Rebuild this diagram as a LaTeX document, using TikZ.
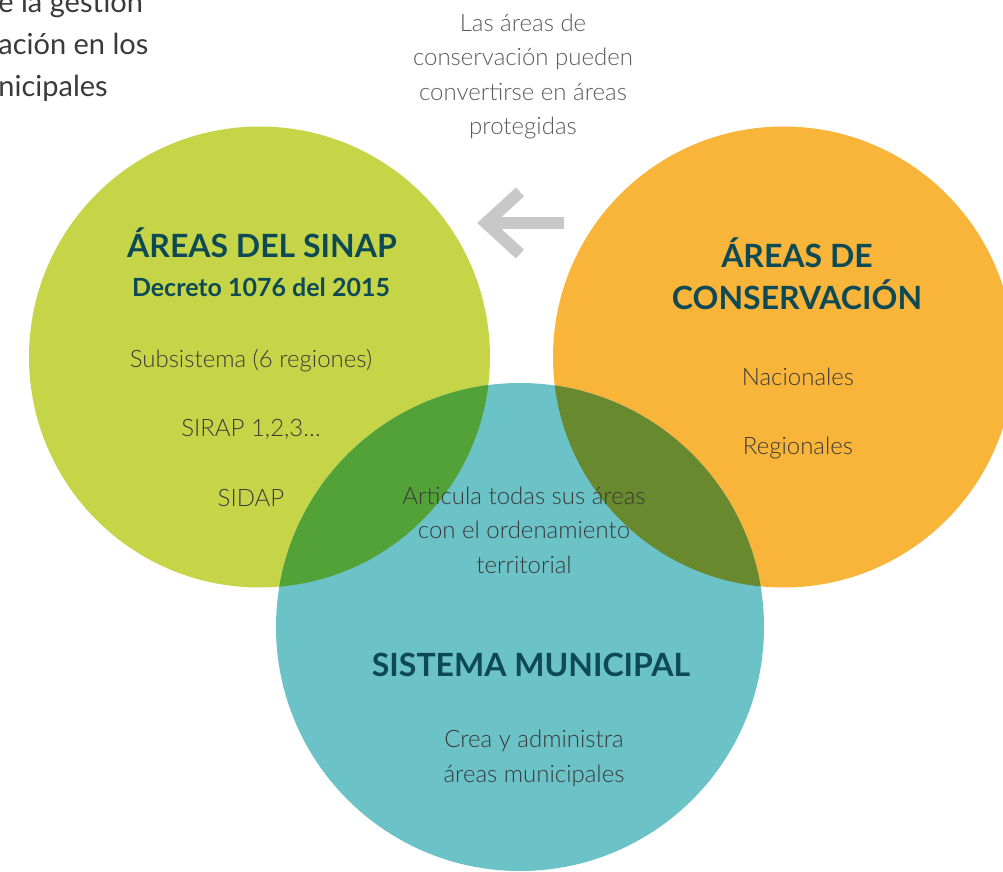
\documentclass[tikz,border=0pt]{standalone}
\usepackage{fontspec}
\setmainfont{Lato}
\newfontfamily\lightfont{Lato Light}
\usetikzlibrary{calc}
\definecolor{sinapgreen}{HTML}{C6D548}
\definecolor{consorange}{HTML}{F9B43A}
\definecolor{munteal}{HTML}{6BC2C7}
\definecolor{greenteal}{HTML}{53A238}
\definecolor{orangeteal}{HTML}{68892D}
\definecolor{titleteal}{HTML}{0E4A56}
\definecolor{bodygray}{HTML}{3A3A3A}
\definecolor{notegray}{HTML}{5A5A5A}
\definecolor{arrowgray}{HTML}{C8C8C8}
\tikzset{every node/.style={inner sep=0pt, align=center},
  titletext/.style={font=\bfseries\fontsize{16}{21}\selectfont, text=titleteal},
  decreetext/.style={font=\bfseries\fontsize{12.5}{15}\selectfont, text=titleteal},
  bodytext/.style={font=\lightfont\fontsize{12}{17.2}\selectfont, text=bodygray},
  notetext/.style={font=\lightfont\fontsize{12}{17.3}\selectfont, text=notegray},
  lefttext/.style={font=\fontsize{14.5}{21}\selectfont, text=bodygray, align=left}}

\begin{document}
\begin{tikzpicture}[x=0.5pt,y=-0.5pt]
   \useasboundingbox (0,0) rectangle (1003,872);
   \clip (0,0) rectangle (1003,872);
   % circles
   \coordinate (sinap) at (259.5,357);
   \coordinate (cons) at (783.5,357);
   \coordinate (mun) at (520,627);
   \fill[sinapgreen] (sinap) circle[radius=115.25pt];
   \fill[consorange] (cons) circle[radius=115.25pt];
   \fill[munteal] (mun) circle[radius=122pt];
   \begin{scope}
    \clip (mun) circle[radius=122pt];
    \fill[greenteal] (sinap) circle[radius=115.25pt];
    \fill[orangeteal] (cons) circle[radius=115.25pt];
   \end{scope}
   % arrow
   \coordinate (arrtail) at (564,223);
   \coordinate (arrtip) at (486,223);
   \draw[arrowgray, line width=6pt] (arrtail) -- (arrtip);
   \draw[arrowgray, line width=6pt, miter limit=10] ($(arrtip)+(34,-31)$) -- (arrtip) -- ($(arrtip)+(34,31)$);
   % texts (base = last line)
   \node[lefttext, anchor=base west] (prevtext) at (-2,97) {e la gestión\\ación en los\\nicipales};
   \node[notetext, anchor=base] (note) at (523,135) {Las áreas de\\conservación pueden\\convertirse en áreas\\protegidas};
   \node[titletext, anchor=base] (sinaptitle) at (262,257) {ÁREAS DEL SINAP};
   \node[decreetext, anchor=base] (sinapdecree) at (261,297) {Decreto 1076 del 2015};
   \node[bodytext, anchor=base] (subsistema) at (251,367) {Subsistema (6 regiones)};
   \node[bodytext, anchor=base] (sirap) at (251,437) {SIRAP 1,2,3\ldots};
   \node[bodytext, anchor=base] (sidap) at (251,506) {SIDAP};
   \node[titletext, anchor=base] (constitle) at (797,310) {ÁREAS DE\\CONSERVACIÓN};
   \node[bodytext, anchor=base] (nacionales) at (798,386) {Nacionales};
   \node[bodytext, anchor=base] (regionales) at (798,454) {Regionales};
   \node[bodytext, anchor=base] (articula) at (524,573) {Articula todas sus áreas\\con el ordenamiento\\territorial};
   \node[titletext, anchor=base] (muntitle) at (531,676) {SISTEMA MUNICIPAL};
   \node[bodytext, anchor=base] (crea) at (534,782) {Crea y administra\\áreas municipales};
  \end{tikzpicture}
\end{document}
